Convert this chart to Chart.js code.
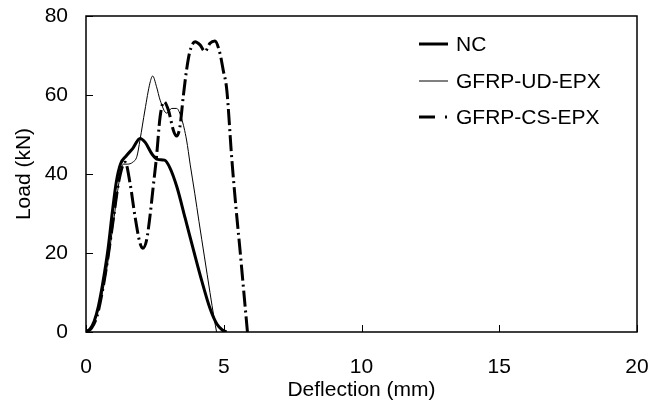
<!DOCTYPE html>
<html><head><meta charset="utf-8">
<script src="https://cdn.jsdelivr.net/npm/chart.js@4/dist/chart.umd.min.js"></script>
<style>html,body{margin:0;padding:0;background:#fff}</style>
</head><body>
<canvas id="c" width="667" height="407"></canvas>
<script>
const xTicks = [0, 5, 10, 15, 20];
const yTicks = [0, 20, 40, 60, 80];
const seriesNames = ['NC', 'GFRP-UD-EPX', 'GFRP-CS-EPX'];
const xTitle = 'Deflection (mm)';
const yTitle = 'Load (kN)';

const ncX = [0, 0.15, 0.3, 0.45, 0.6, 0.8, 0.95, 1.1, 1.25, 1.45, 1.7, 1.96, 2.15, 2.4, 2.6, 2.85, 3.05, 3.3, 3.6, 3.9, 4.2, 4.5, 4.75, 4.95, 5.1];
const ncY = [0, 0.8, 2.8, 6.5, 12, 21, 30, 38, 42.5, 44.5, 46.5, 49, 48, 45, 43.7, 43.5, 41.5, 36.7, 28.8, 20.8, 13, 6, 2, 0.5, 0];

const udX = [0, 0.2, 0.4, 0.6, 0.8, 1.0, 1.2, 1.35, 1.5, 1.7, 1.85, 1.96, 2.14, 2.32, 2.42, 2.56, 2.69, 2.93, 3.11, 3.29, 3.47, 3.65, 3.78, 3.95, 4.1, 4.3, 4.5, 4.65, 4.74];
const udY = [0, 1.2, 4.5, 10, 18, 28, 38, 42.5, 42.5, 43, 44.5, 48.6, 56.2, 63, 64.8, 62.1, 58.7, 55.4, 56.6, 56.6, 54, 48.6, 42.5, 35, 28, 19, 10, 3.5, 0];

const csX = [0, 0.2, 0.4, 0.6, 0.8, 1.0, 1.2, 1.42, 1.6, 1.78, 1.96, 2.06, 2.2, 2.32, 2.44, 2.56, 2.69, 2.83, 2.99, 3.17, 3.29, 3.41, 3.53, 3.65, 3.77, 3.96, 4.14, 4.32, 4.5, 4.68, 4.86, 4.98, 5.11, 5.29, 5.45, 5.59, 5.73, 5.86];
const csY = [0, 1, 4, 10.5, 19, 29, 38.5, 43, 37.6, 29.2, 22.5, 21.2, 23.3, 29.2, 36.8, 44.4, 54.5, 58.3, 56.2, 51.1, 49.6, 52, 59.6, 66.3, 71, 73.5, 72.7, 71, 73.1, 73.7, 70.6, 66.3, 61.3, 44, 31, 20.8, 10, 0];

const FONT = '"Liberation Sans", Arial, sans-serif';
const toPts = (xs, ys) => xs.map((x, i) => ({x: x, y: ys[i]}));

const framePlugin = {
  id: 'frame',
  afterDatasetsDraw(chart) {
    const {ctx, chartArea: a, scales} = chart;
    ctx.save();
    ctx.strokeStyle = '#000';
    ctx.lineWidth = 1.5;
    ctx.strokeRect(a.left, a.top, a.right - a.left, a.bottom - a.top);
    ctx.lineWidth = 1;
    ctx.beginPath();
    scales.x.ticks.forEach(t => {
      const px = Math.round(scales.x.getPixelForValue(t.value)) + 0.5;
      ctx.moveTo(px, a.bottom); ctx.lineTo(px, a.bottom - 7);
    });
    scales.y.ticks.forEach(t => {
      const py = Math.round(scales.y.getPixelForValue(t.value)) + 0.5;
      ctx.moveTo(a.left, py); ctx.lineTo(a.left + 7, py);
    });
    ctx.stroke();
    ctx.restore();
  }
};

const legendPlugin = {
  id: 'customLegend',
  afterDraw(chart) {
    const {ctx} = chart;
    const ds = chart.data.datasets;
    const x0 = 419, x1 = 448, tx = 456;
    const ys = [44, 81, 117];
    ctx.save();
    ctx.font = '21px ' + FONT;
    ctx.fillStyle = '#000';
    ctx.textBaseline = 'middle';
    ctx.textAlign = 'left';
    ds.forEach((d, i) => {
      ctx.strokeStyle = '#000';
      ctx.lineWidth = d.borderWidth;
      ctx.beginPath();
      if (d.borderDash && d.borderDash.length) {
        ctx.moveTo(x0, ys[i]); ctx.lineTo(x0 + 16, ys[i]);
        ctx.stroke();
        ctx.beginPath();
        ctx.moveTo(x1 - 3, ys[i]); ctx.lineTo(x1 - 1, ys[i]);
      } else {
        ctx.moveTo(x0, ys[i]); ctx.lineTo(x1, ys[i]);
      }
      ctx.stroke();
      ctx.fillText(d.label, tx, ys[i] + 1);
    });
    ctx.restore();
  }
};

new Chart(document.getElementById('c'), {
  type: 'scatter',
  data: {
    datasets: [
      {label: seriesNames[0], data: toPts(ncX, ncY), showLine: true, borderColor: '#000', borderWidth: 3, pointRadius: 0, cubicInterpolationMode: 'monotone'},
      {label: seriesNames[1], data: toPts(udX, udY), showLine: true, borderColor: '#000', borderWidth: 1, pointRadius: 0, cubicInterpolationMode: 'monotone'},
      {label: seriesNames[2], data: toPts(csX, csY), showLine: true, borderColor: '#000', borderWidth: 3, borderDash: [16, 4, 2, 4], pointRadius: 0, cubicInterpolationMode: 'monotone'}
    ]
  },
  options: {
    responsive: false,
    animation: false,
    devicePixelRatio: 1,
    layout: {padding: {left: 0, right: 30, top: 16, bottom: 0}},
    plugins: {legend: {display: false}, tooltip: {enabled: false}},
    scales: {
      x: {
        type: 'linear', min: 0, max: 20,
        afterBuildTicks: s => { s.ticks = xTicks.map(v => ({value: v})); },
        afterFit: s => { s.height = 75; s.paddingLeft = 0; s.paddingRight = 0; },
        grid: {display: false, drawTicks: false},
        border: {display: false},
        ticks: {color: '#000', font: {family: FONT, size: 21}, padding: 23, maxRotation: 0},
        title: {display: true, text: xTitle, color: '#000', font: {family: FONT, size: 21}, padding: {top: 0, bottom: 4}}
      },
      y: {
        type: 'linear', min: 0, max: 80,
        afterBuildTicks: s => { s.ticks = yTicks.map(v => ({value: v})); },
        afterFit: s => { s.width = 86; s.paddingTop = 0; s.paddingBottom = 0; },
        grid: {display: false, drawTicks: false},
        border: {display: false},
        ticks: {color: '#000', font: {family: FONT, size: 21}, padding: 18},
        title: {display: true, text: yTitle, color: '#000', font: {family: FONT, size: 21}, padding: {top: 12, bottom: 0}}
      }
    }
  },
  plugins: [framePlugin, legendPlugin]
});
</script>
</body></html>
